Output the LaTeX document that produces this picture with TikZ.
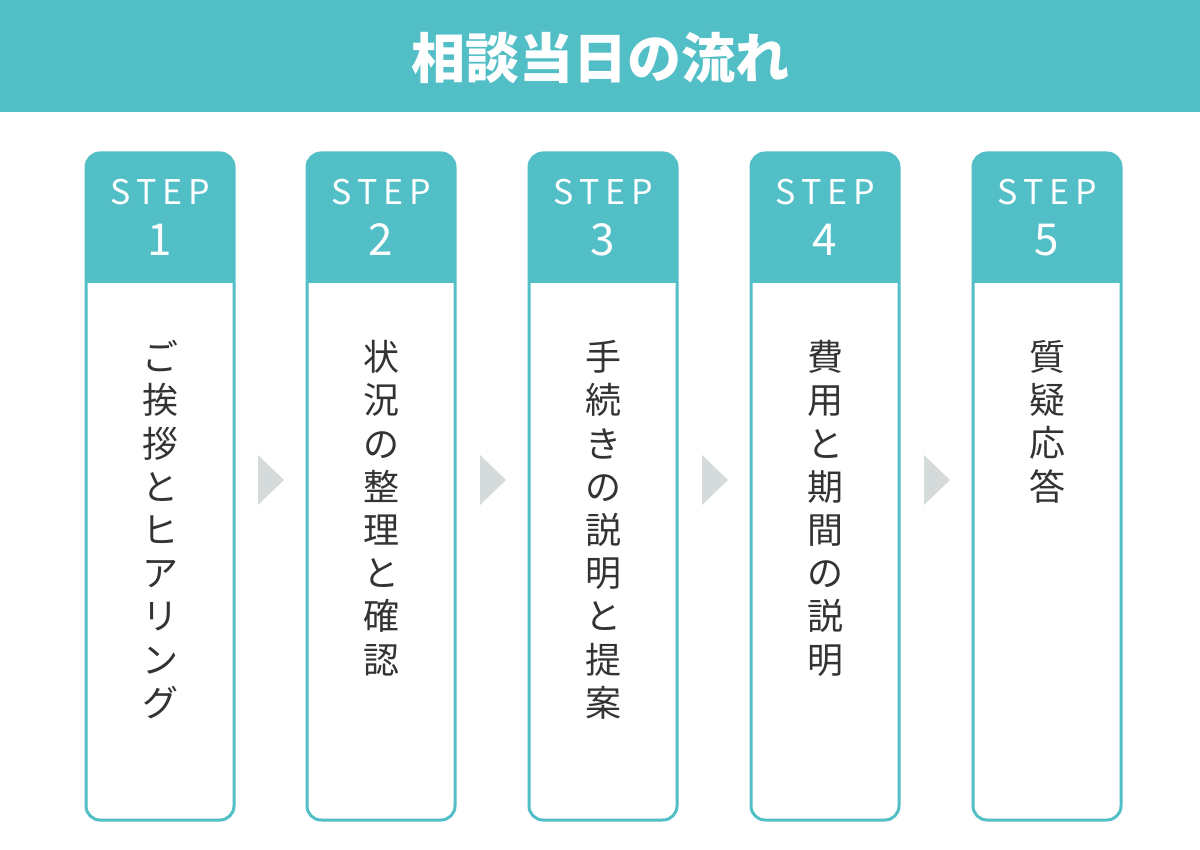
\documentclass[tikz,border=0pt]{standalone}
\usepackage{fontspec}
\newfontfamily\jp{Noto Sans CJK JP}
\definecolor{teal1}{HTML}{52BFC7}
\definecolor{txt}{HTML}{333333}
\definecolor{arr}{HTML}{D5DBDB}
\begin{document}
\begin{tikzpicture}[x=0.5pt,y=-0.5pt,
  stepbox/.style={draw=teal1,line width=1.5pt,rounded corners=7pt},
  steplbl/.style={text=white,font=\jp\fontsize{17}{18}\selectfont},
  numlbl/.style={text=white,font=\jp\fontsize{22}{22}\selectfont},
  vtext/.style={text=txt,font=\jp\fontsize{18}{21.6}\selectfont,align=center,anchor=north,inner sep=0pt},
  tri/.style={fill=arr,draw=none}]
\useasboundingbox (0,0) rectangle (1200,850);
\fill[teal1] (0,0) rectangle (1200,112);
\node[text=white,font=\jp\bfseries\fontsize{27}{28}\selectfont] (title) at (600,58) {相談当日の流れ};
\foreach \i/\x/\t in {1/86/{ご\\挨\\拶\\と\\ヒ\\ア\\リ\\ン\\グ},
                      2/307/{状\\況\\の\\整\\理\\と\\確\\認},
                      3/529/{手\\続\\き\\の\\説\\明\\と\\提\\案},
                      4/751/{費\\用\\と\\期\\間\\の\\説\\明},
                      5/973/{質\\疑\\応\\答}}{
  \begin{scope}
  \clip[rounded corners=7pt] (\x,153) rectangle ++(148,667);
  \fill[teal1] (\x,153) rectangle ++(148,130);
  \end{scope}
  \draw[stepbox] (\x,153) rectangle ++(148,667);
  \node[steplbl] (s\i) at ({\x+74},192) {S\,T\,E\,P};
  \node[numlbl] (n\i) at ({\x+74},240) {\i};
  \node[vtext] (v\i) at ({\x+74},340) {\t};
}
\foreach \x in {258,480,702,924}{
  \fill[tri] (\x,455) -- (\x+26,480) -- (\x,505) -- cycle;
}
\end{tikzpicture}
\end{document}
